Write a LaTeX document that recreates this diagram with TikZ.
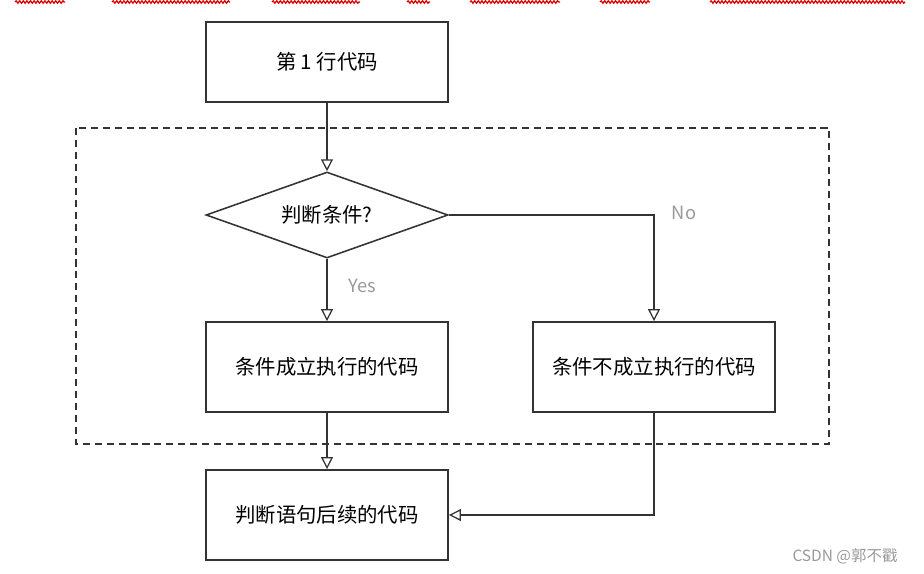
\documentclass[tikz,border=0pt]{standalone}
\usepackage{fontspec}
\setmainfont{Noto Sans CJK SC}
\usepackage{xcolor}
\definecolor{linegray}{HTML}{333333}
\definecolor{labelgray}{HTML}{999999}
\usetikzlibrary{shapes.geometric}
\usetikzlibrary{arrows.meta}
\usetikzlibrary{decorations.pathmorphing}
\tikzset{
	codebox/.style={draw=linegray, line width=1.3pt, minimum width=6.05cm, minimum height=2.25cm, font=\fontsize{14.5}{17}\selectfont},
	condbox/.style={diamond, draw=linegray, line width=1.1pt, inner sep=0pt, aspect=2.8, minimum width=6.05cm, minimum height=2.15cm, font=\fontsize{14.5}{17}\selectfont},
	flow/.style={draw=linegray, line width=0.9pt, -{Triangle[open, fill=white, length=8.5pt, width=8.5pt]}},
	branch/.style={text=labelgray, font=\fontsize{13}{15}\selectfont},
	spell/.style={red!85!black, line width=0.9pt, decorate, decoration={snake, segment length=0.09cm, amplitude=0.03cm}}
}

\begin{document}
\begin{tikzpicture}[x=0.025cm, y=-0.025cm]
	\useasboundingbox (0,0) rectangle (924,573);
	
	% underlines at the top edge
	\foreach \a/\b in {15/65, 112/230, 272/360, 407/430, 470/560, 600/650, 710/905}
		\draw[spell] (\a,2) -- (\b,2);
	
	% frame round the branch
	\draw[linegray, line width=1.1pt, dash pattern=on 5pt off 3.5pt] (76,128) rectangle (829,444);
	
	% boxes
	\node[codebox, minimum height=2cm] (first) at (327,62) {第 1 行代码};
	\node[condbox] (cond) at (327,215) {判断条件?};
	\node[codebox] (yesbox) at (327,367) {条件成立执行的代码};
	\node[codebox] (nobox) at (654,367) {条件不成立执行的代码};
	\node[codebox] (after) at (327,515) {判断语句后续的代码};
	
	% labels
	\node[branch] (yes) at (362,286) {Yes};
	\node[branch] (no) at (684,213) {No};
	\node[text=labelgray, font=\fontsize{11}{13}\selectfont] (mark) at (845,556) {CSDN @郭不戳};
	
	% connectors
	\draw[flow] (first) -- (cond);
	\draw[flow] (cond) -- (yesbox);
	\draw[flow] (cond.east) -| (nobox.north);
	\draw[flow] (yesbox) -- (after);
	\draw[flow] (nobox.south) |- (after.east);
\end{tikzpicture}
\end{document}
